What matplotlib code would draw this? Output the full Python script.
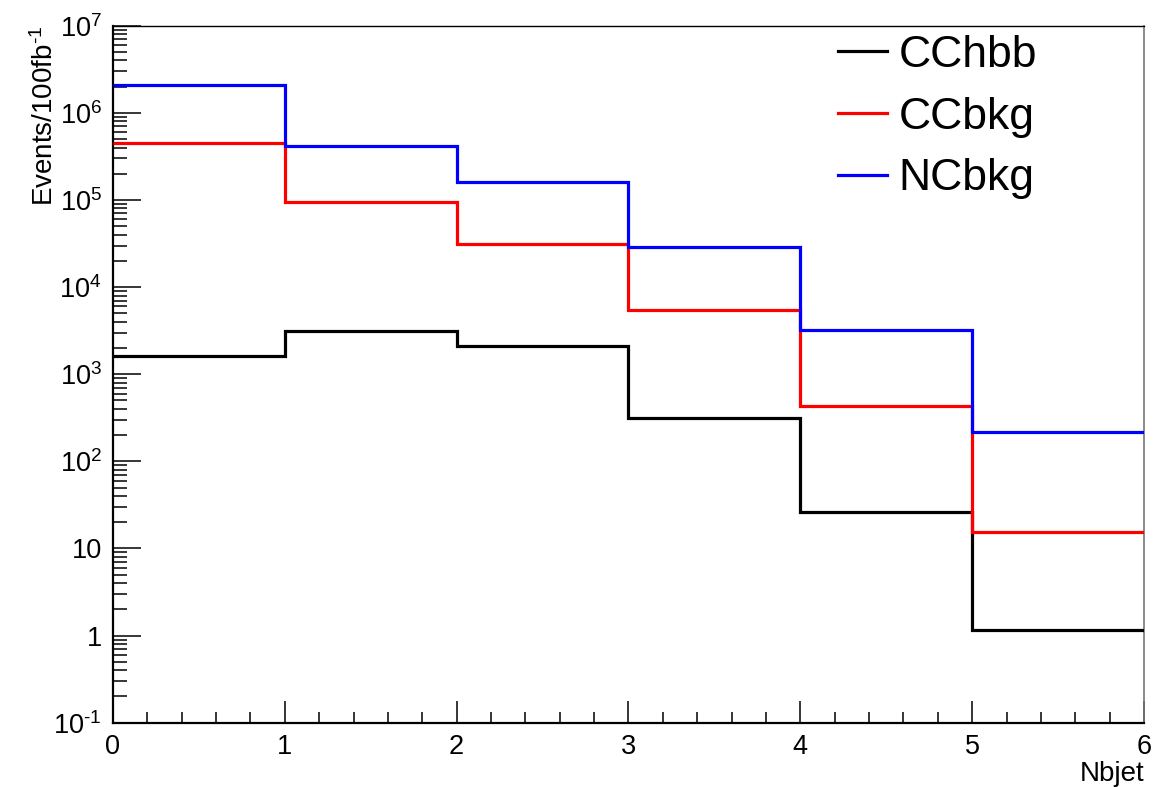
"""Nbjet multiplicity per 100 fb^-1: CC hbb signal vs CC and NC backgrounds (log y)."""
import matplotlib
matplotlib.use("Agg")
import matplotlib.pyplot as plt
from matplotlib.ticker import FixedLocator, MultipleLocator, LogLocator, NullFormatter

plt.rcParams["font.family"] = ["Liberation Sans", "DejaVu Sans"]
plt.rcParams["mathtext.fontset"] = "custom"
plt.rcParams["mathtext.rm"] = "Liberation Sans"
plt.rcParams["mathtext.it"] = "Liberation Sans"

# histogram contents, one bin per b-jet count
edges = [0, 1, 2, 3, 4, 5, 6]
cchbb = [1600, 3120, 2090, 315, 26, 1.15]
ccbkg = [4.55e5, 9.4e4, 3.1e4, 5.4e3, 4.3e2, 15.5]
ncbkg = [2.1e6, 4.15e5, 1.6e5, 2.9e4, 3.2e3, 215]

names = ["CChbb", "CCbkg", "NCbkg"]
colors = ["black", "#ff0000", "#0000ff"]

# short hyphen (U+2010) instead of a math minus in the exponents
ytick_vals = [1e-1, 1, 10, 1e2, 1e3, 1e4, 1e5, 1e6, 1e7]
ytick_labels = ["$\\mathregular{10^{\u20101}}$", "1", "10", r"$\mathregular{10^{2}}$",
                r"$\mathregular{10^{3}}$", r"$\mathregular{10^{4}}$", r"$\mathregular{10^{5}}$",
                r"$\mathregular{10^{6}}$", r"$\mathregular{10^{7}}$"]

fig = plt.figure(figsize=(11.55, 7.87), dpi=100)
ax = fig.add_axes([0.0978, 0.0817, 0.8927, 0.8856])

for vals, name, col, z in zip([cchbb, ccbkg, ncbkg], names, colors, [3, 4, 5]):
    ax.stairs(vals, edges, color=col, lw=2.3, label=name, zorder=z, baseline=None)

ax.set_yscale("log")
ax.set_xlim(edges[0], edges[-1])
ax.set_ylim(1e-1, 1e7)

ax.yaxis.set_major_locator(FixedLocator(ytick_vals))
ax.set_yticklabels(ytick_labels)
ax.yaxis.set_minor_locator(LogLocator(base=10, subs=range(2, 10), numticks=20))
ax.yaxis.set_minor_formatter(NullFormatter())
ax.xaxis.set_major_locator(MultipleLocator(1))
ax.xaxis.set_minor_locator(MultipleLocator(0.2))

ax.tick_params(axis="y", which="major", direction="in", length=20, width=1.1,
               labelsize=19.5, pad=8)
ax.tick_params(axis="y", which="minor", direction="in", length=10, width=1.1)
ax.tick_params(axis="x", which="major", direction="in", length=16, width=1.1,
               labelsize=19.5, pad=8)
ax.tick_params(axis="x", which="minor", direction="in", length=8, width=1.1)

for side in ["left", "bottom"]:
    ax.spines[side].set_linewidth(1.6)
ax.spines["top"].set_linewidth(1.0)
ax.spines["right"].set_linewidth(1.2)
ax.spines["right"].set_color("#777777")

ax.set_ylabel("Events/100fb$^{\\mathregular{\u20101}}$", fontsize=20, loc="top")
ax.yaxis.set_label_coords(-0.052, 1.0)
ax.set_xlabel("Nbjet", fontsize=20, loc="right", labelpad=1)

ax.legend(loc="upper left", bbox_to_anchor=(0.695, 1.0), frameon=False, fontsize=32,
          handlelength=1.1, handletextpad=0.25, labelspacing=0.47,
          borderaxespad=0.2, borderpad=0.0)

fig.savefig("out.png", dpi=100)
